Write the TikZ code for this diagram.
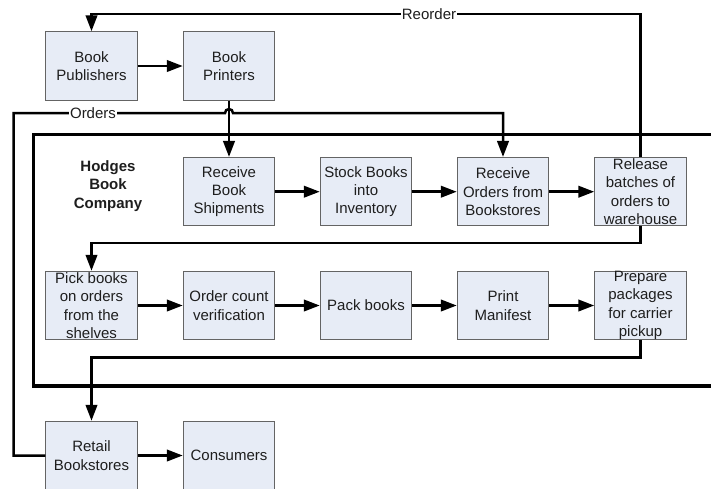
\documentclass[tikz,border=0pt]{standalone}
\usepackage{fontspec}
\setmainfont{Liberation Sans}
\usetikzlibrary{arrows.meta}
\definecolor{boxfill}{RGB}{231,236,246}
\definecolor{boxline}{RGB}{100,100,100}
\definecolor{ink}{RGB}{30,30,30}
% a process box: fixed-size rectangle with its text set on top
\newcommand\procbox[3]{%
  \node[proc] (#1) at (#2) {};
  \node[ptext] (#1-t) at (#1.center) {#3};}
\begin{document}
\begin{tikzpicture}[x=1pt,y=-1pt,
  proc/.style={draw=boxline,line width=1pt,fill=boxfill,
    minimum width=91.5pt,minimum height=68.5pt,inner sep=0pt},
  ptext/.style={align=center,inner sep=0pt,text=ink,
    font=\fontsize{15}{18.4}\selectfont},
  flow/.style={line width=2.5pt,-{Triangle[length=16pt,width=11.5pt]}},
  frame/.style={line width=3.5pt},
  tag/.style={fill=white,inner sep=1pt,text=ink,font=\fontsize{15}{18}\selectfont}]
\useasboundingbox (0,0) rectangle (711,488);

% company boundary (open to the right)
\draw[frame] (725,134.5) -- (33.5,134.5) -- (33.5,386) -- (725,386);

% boxes
\procbox{pub}{91.5,66}{Book\\Publishers}
\procbox{prn}{229,66}{Book\\Printers}
\procbox{rbs}{229,191.7}{Receive\\Book\\Shipments}
\procbox{stk}{366,191.7}{Stock Books\\into\\Inventory}
\procbox{ror}{503,191.7}{Receive\\Orders from\\Bookstores}
\procbox{rel}{640.5,191.7}{Release\\batches of\\orders to\\warehouse}
\procbox{pick}{91.5,305.5}{Pick books\\on orders\\from the\\shelves}
\procbox{occ}{229,305.5}{Order count\\verification}
\procbox{pack}{366,305.5}{Pack books}
\procbox{pm}{503,305.5}{Print\\Manifest}
\procbox{prep}{640.5,305.5}{Prepare\\packages\\for carrier\\pickup}
\procbox{ret}{91.5,455.5}{Retail\\Bookstores}
\procbox{con}{229,455.5}{Consumers}

\node[ptext,font=\fontsize{15}{18.4}\selectfont\bfseries] (hbc) at (108,186) {Hodges\\Book\\Company};

% routing levels
\coordinate (lv-reorder) at (0,14);
\coordinate (lv-row1)    at (0,243);
\coordinate (lv-row2)    at (0,357.5);
\coordinate (ord-left)   at (13.5,113);
\coordinate (hop)        at (225,113);

% long connectors
\draw[flow] (rel.north) -- (rel.north |- lv-reorder) -- (pub.north |- lv-reorder) -- (pub.north);
\draw[flow] (ret.west) -- (ret.west -| ord-left) -- (ord-left) -- (hop)
  arc[start angle=180,end angle=360,radius=4]
  -- (ror.north |- ord-left) -- (ror.north);
\draw[flow] (prn.south) -- (rbs.north);
\draw[flow] (rel.south) -- (rel.south |- lv-row1) -- (pick.north |- lv-row1) -- (pick.north);
\draw[flow] (prep.south) -- (prep.south |- lv-row2) -- (ret.north |- lv-row2) -- (ret.north);

\node[tag] (reorder) at (429,14) {Reorder};
\node[tag] (orders) at (93,113) {Orders};

% arrows between neighbouring boxes
\draw[flow] (pub) -- (prn);
\draw[flow] (rbs) -- (stk);
\draw[flow] (stk) -- (ror);
\draw[flow] (ror) -- (rel);
\draw[flow] (pick) -- (occ);
\draw[flow] (occ) -- (pack);
\draw[flow] (pack) -- (pm);
\draw[flow] (pm) -- (prep);
\draw[flow] (ret) -- (con);
\end{tikzpicture}
\end{document}
